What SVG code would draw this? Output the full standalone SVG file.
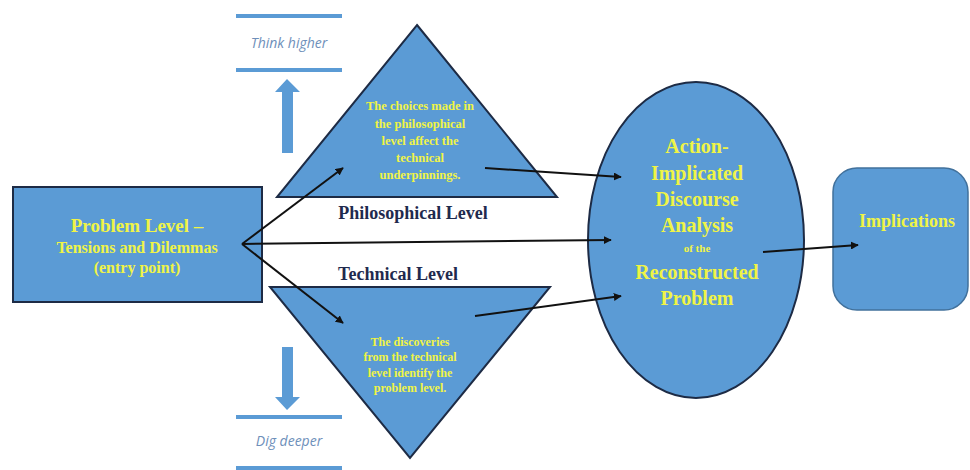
<svg xmlns="http://www.w3.org/2000/svg" width="970" height="470" viewBox="0 0 970 470">
<defs>
<marker id="ah" viewBox="0 0 10 10" refX="9" refY="5" markerWidth="8" markerHeight="8" markerUnits="userSpaceOnUse" orient="auto"><path d="M0,0 L10,5 L0,10 z" fill="#111"/></marker>
<style>
.shape{fill:#5b9bd5;stroke:#1d2b45;stroke-width:2}
.yt{font-family:"Liberation Serif",serif;font-weight:bold;fill:#f0f446;text-anchor:middle}
.lbl{font-family:"Liberation Serif",serif;font-weight:bold;fill:#1f2a4e;text-anchor:middle;font-size:18px}
.it{font-family:"Open Sans","Liberation Sans",sans-serif;font-style:italic;fill:#6e8fba;text-anchor:middle;font-size:14px}
.bar{stroke:#5b9bd5;stroke-width:4}
.conn{stroke:#111;stroke-width:2;fill:none;marker-end:url(#ah)}
.blk{fill:#5b9bd5}
</style>
</defs>
<rect width="970" height="470" fill="#fff"/>
<g id="think-higher">
<line class="bar" x1="236" y1="16" x2="342" y2="16"/>
<line class="bar" x1="236" y1="70" x2="342" y2="70"/>
<text class="it" x="289" y="48">Think higher</text>
<path class="blk" d="M287,79 L300,92 L293,92 L293,153 L282,153 L282,92 L275,92 z"/>
</g>
<g id="dig-deeper">
<path class="blk" d="M287,410 L300,397 L293,397 L293,347 L282,347 L282,397 L275,397 z"/>
<line class="bar" x1="236" y1="417" x2="342" y2="417"/>
<line class="bar" x1="236" y1="468" x2="342" y2="468"/>
<text class="it" x="289" y="446">Dig deeper</text>
</g>
<g id="problem-level">
<rect class="shape" x="13" y="187" width="249" height="115"/>
<text class="yt" x="137" y="232" font-size="19">Problem Level –</text>
<text class="yt" x="137" y="253" font-size="16">Tensions and Dilemmas</text>
<text class="yt" x="137" y="273" font-size="16">(entry point)</text>
</g>
<g id="philosophical">
<polygon class="shape" points="417,25 557,197 277,197"/>
<text class="yt" font-size="12.5"><tspan x="420" y="110">The choices made in</tspan><tspan x="420" y="128">the philosophical</tspan><tspan x="420" y="145">level affect the</tspan><tspan x="420" y="162">technical</tspan><tspan x="420" y="179">underpinnings.</tspan></text>
<text class="lbl" x="413" y="219">Philosophical Level</text>
</g>
<g id="technical">
<text class="lbl" x="398" y="280">Technical Level</text>
<polygon class="shape" points="270,287 550,287 410,458"/>
<text class="yt" font-size="12"><tspan x="410" y="346">The discoveries</tspan><tspan x="410" y="361">from the technical</tspan><tspan x="410" y="377">level identify the</tspan><tspan x="410" y="392">problem level.</tspan></text>
</g>
<g id="analysis">
<ellipse class="shape" cx="696" cy="240" rx="108" ry="158"/>
<text class="yt" font-size="20"><tspan x="697" y="153">Action-</tspan><tspan x="697" y="180">Implicated</tspan><tspan x="697" y="206">Discourse</tspan><tspan x="697" y="232">Analysis</tspan><tspan x="697" y="252" font-size="11">of the</tspan><tspan x="697" y="279">Reconstructed</tspan><tspan x="697" y="305">Problem</tspan></text>
</g>
<g id="implications">
<rect x="833" y="168" width="135" height="142" rx="24" fill="#5b9bd5" stroke="#41719c" stroke-width="1.5"/>
<text class="yt" x="907" y="227" font-size="18">Implications</text>
</g>
<g id="connectors">
<line class="conn" x1="242" y1="244" x2="343" y2="168"/>
<line class="conn" x1="242" y1="244" x2="611" y2="240"/>
<line class="conn" x1="242" y1="244" x2="343" y2="323"/>
<line class="conn" x1="485" y1="168" x2="621" y2="177"/>
<line class="conn" x1="475" y1="316" x2="621" y2="296"/>
<line class="conn" x1="763" y1="252" x2="858" y2="245"/>
</g>
</svg>
